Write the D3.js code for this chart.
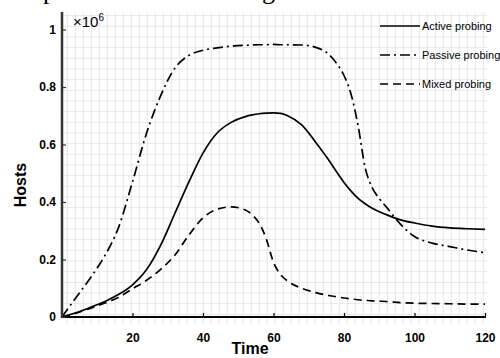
<!DOCTYPE html>
<html><head><meta charset="utf-8">
<script src="https://cdn.jsdelivr.net/npm/d3@7"></script>
<style>html,body{margin:0;padding:0;background:#fff;}svg{display:block;}</style>
</head><body>
<svg id="c" width="500" height="358"></svg>
<script>
const times   = [0,4,8,12,16,20,24,28,32,36,40,44,48,52,54,56,58,60,62,64,68,72,76,78,80,82,84,86,88,90,92,96,100,105,110,115,120];
const active  = [0,0.015,0.033,0.053,0.078,0.112,0.165,0.25,0.36,0.47,0.57,0.64,0.677,0.697,0.703,0.707,0.709,0.71,0.708,0.7,0.668,0.607,0.54,0.503,0.468,0.438,0.413,0.394,0.378,0.366,0.356,0.338,0.327,0.316,0.31,0.307,0.305];
const passive = [0,0.068,0.135,0.21,0.31,0.47,0.64,0.77,0.865,0.91,0.928,0.936,0.942,0.945,0.946,0.947,0.947,0.948,0.947,0.947,0.946,0.938,0.91,0.88,0.84,0.775,0.665,0.52,0.45,0.412,0.383,0.323,0.28,0.257,0.245,0.233,0.224];
const mixed   = [0,0.013,0.03,0.048,0.068,0.098,0.128,0.166,0.215,0.285,0.345,0.375,0.383,0.372,0.355,0.325,0.27,0.19,0.148,0.125,0.1,0.085,0.074,0.07,0.066,0.063,0.06,0.058,0.056,0.055,0.054,0.05,0.048,0.047,0.046,0.045,0.045];
const seriesNames = ["Active probing","Passive probing","Mixed probing"];
const xTicks = [20,40,60,80,100,120];
const yTicks = [0,0.2,0.4,0.6,0.8,1];
const yTickLabels = ["0","0.2","0.4","0.6","0.8","1"];

const svg = d3.select("#c");
const x = d3.scaleLinear().domain([0,120]).range([62,485]);
const y = d3.scaleLinear().domain([0,1]).range([317,29.5]);

// cut-off caption from the page above
svg.append("text").attr("x",43).attr("y",-1).attr("font-family","Liberation Serif").attr("font-size",26).text("p");
svg.append("text").attr("x",262).attr("y",-1).attr("font-family","Liberation Serif").attr("font-size",26).text("g");

// background grid (paper)
const grid = svg.append("g").attr("stroke","#e6e6e6").attr("stroke-width",1);
d3.range(67.3,487,8).forEach(gx=>grid.append("line").attr("x1",gx).attr("x2",gx).attr("y1",12).attr("y2",325));
d3.range(15.6,318,10.67).forEach(gy=>grid.append("line").attr("x1",62).attr("x2",487).attr("y1",gy).attr("y2",gy));

// lines
const styles = [
  {data:active, dash:null},
  {data:passive, dash:"10,4,2,4"},
  {data:mixed, dash:"8,5"}
];
const line = d3.line().x((d,i)=>x(times[i])).y(d=>y(d)).curve(d3.curveMonotoneX);
styles.forEach(s=>{
  svg.append("path").datum(s.data).attr("d",line).attr("fill","none")
    .attr("stroke","#000").attr("stroke-width",1.7)
    .attr("stroke-dasharray",s.dash);
});

// axes
const xAxis = d3.axisBottom(x).tickValues(xTicks).tickSize(-4).tickFormat(d3.format("d"));
const gx = svg.append("g").attr("transform","translate(0,317)").call(xAxis);
gx.select(".domain").attr("stroke","#000").attr("stroke-width",2).attr("d","M62,0H486");
gx.selectAll(".tick line").attr("stroke","#000").attr("stroke-width",1.2);
gx.selectAll(".tick text").attr("y",16).attr("font-family","Liberation Sans, Arial").attr("font-weight","bold").attr("font-size",12).attr("fill","#000");

const yAxis = d3.axisLeft(y).tickValues(yTicks).tickSize(-4).tickFormat((d,i)=>yTickLabels[i]);
const gy = svg.append("g").attr("transform","translate(62,0)").call(yAxis);
gy.select(".domain").attr("stroke","#333").attr("stroke-width",2.5).attr("d","M0,12V318");
gy.selectAll(".tick line").attr("stroke","#333").attr("stroke-width",1.2);
gy.selectAll(".tick text").attr("x",-6).attr("font-family","Liberation Sans, Arial").attr("font-weight","bold").attr("font-size",12).attr("fill","#000");

// multiplier
const m = svg.append("text").attr("x",73).attr("y",27).attr("font-family","Liberation Sans, Arial").attr("font-size",15).attr("fill","#000");
m.append("tspan").text("\u00d710");
m.append("tspan").attr("dy",-6).attr("font-size",10).text("6");

// axis titles
svg.append("text").attr("transform","translate(26,185) rotate(-90)").attr("text-anchor","middle")
  .attr("font-family","Liberation Sans, Arial").attr("font-weight","bold").attr("font-size",16).text("Hosts");
svg.append("text").attr("x",250).attr("y",354).attr("text-anchor","middle")
  .attr("font-family","Liberation Sans, Arial").attr("font-weight","bold").attr("font-size",16).text("Time");

// legend
styles.forEach((s,i)=>{
  const ly = 26 + i*29;
  svg.append("line").attr("x1",380).attr("x2",420).attr("y1",ly).attr("y2",ly)
    .attr("stroke","#000").attr("stroke-width",1.7).attr("stroke-dasharray",s.dash);
  svg.append("text").attr("x",422).attr("y",ly+4).attr("font-family","Liberation Sans, Arial")
    .attr("font-size",11).attr("fill","#000").text(seriesNames[i]);
});
</script>
</body></html>
